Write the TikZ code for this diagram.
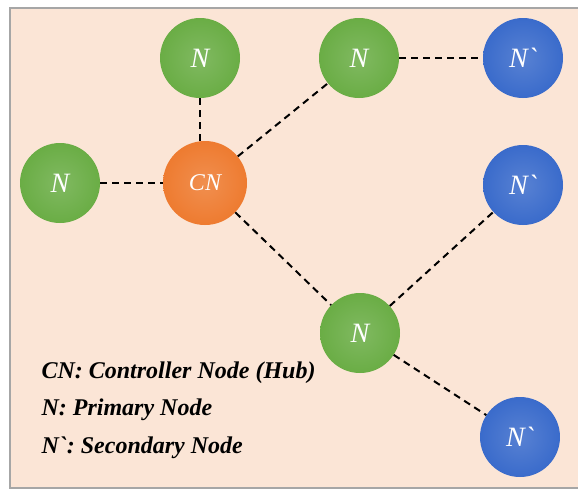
\documentclass[tikz,border=0pt]{standalone}
\usepackage{fontspec}
\setmainfont{Liberation Serif}
\usepackage{xcolor}
\usetikzlibrary{positioning,calc}

\definecolor{peach}{HTML}{FBE5D6}
\definecolor{nodegreen}{HTML}{6AAD45}
\definecolor{huborange}{HTML}{EE7B30}
\definecolor{secblue}{HTML}{3A6BCB}

\begin{document}
\begin{tikzpicture}[
      x=1pt, y=-1pt,
      font=\itshape\fontsize{28}{30}\selectfont,
      prim/.style={circle, inner sep=0pt, minimum size=80pt, text=white,
                   inner color=nodegreen!85!white, outer color=nodegreen},
      hub/.style={prim, minimum size=84pt, font=\itshape\fontsize{24}{26}\selectfont,
                  inner color=huborange!85!white, outer color=huborange},
      sec/.style={prim, inner color=secblue!85!white, outer color=secblue},
      link/.style={dashed, dash pattern=on 7pt off 5pt, line width=2pt},
      lab/.style={font=\bfseries\itshape\fontsize{24}{26}\selectfont, anchor=west}
    ]
    \useasboundingbox (0,0) rectangle (578,491);
    \fill[white] (0,0) rectangle (578,491);
    \draw[fill=peach, draw=gray!70, line width=1.5pt] (10,8) rectangle (580,488);

    \node[hub]  (cn) at (205,183) {CN};
    \node[prim] (nt) at (200,58)  {N};
    \node[prim] (nl) at (60,183)  {N};
    \node[prim] (nm) at (359,58)  {N};
    \node[prim] (nd) at (360,333) {N};
    \node[sec]  (s1) at (523,58)  {N\textasciigrave};
    \node[sec]  (s2) at (523,185) {N\textasciigrave};
    \node[sec]  (s3) at (520,437) {N\textasciigrave};

    \draw[link] (nt.south) -- (nt.south |- cn.north);
    \draw[link] (nl) -- (cn);
    \draw[link] (cn) -- (nm);
    \draw[link] (cn) -- (nd);
    \draw[link] (nm) -- (s1);
    \draw[link] (nd) -- (s2);
    \draw[link] (nd) -- (s3);

    \node[lab] (l1) at (38,373) {CN: Controller Node (Hub)};
    \node[lab] (l2) at (38,410) {N: Primary Node};
    \node[lab] (l3) at (38,448) {N\textasciigrave: Secondary Node};
  \end{tikzpicture}
\end{document}
